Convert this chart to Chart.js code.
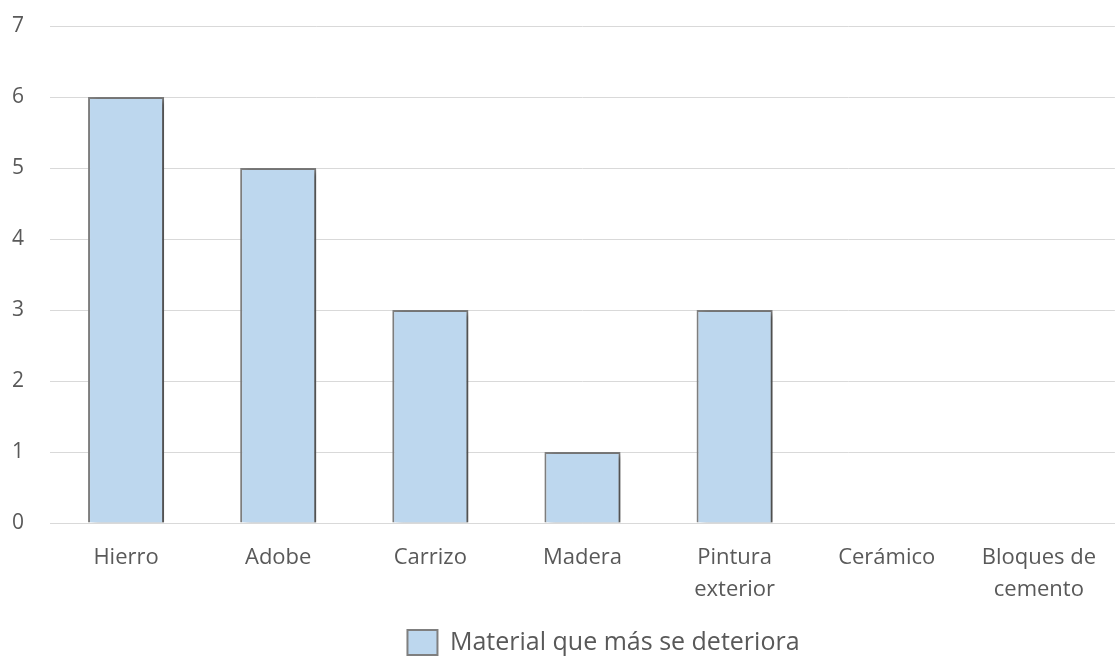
<!DOCTYPE html>
<html>
<head>
<meta charset="utf-8">
<script src="https://cdn.jsdelivr.net/npm/chart.js@4.4.0/dist/chart.umd.min.js"></script>
<style>
  html, body { margin: 0; padding: 0; background: #fff; }
  #wrap { width: 1115px; height: 659px; }
</style>
</head>
<body>
<div id="wrap"><canvas id="chart"></canvas></div>
<script>
const categories = ["Hierro", "Adobe", "Carrizo", "Madera", ["Pintura", "exterior"], "Cerámico", ["Bloques de", "cemento"]];
const values = [6, 5, 3, 1, 3, 0, 0];
const seriesName = "Material que más se deteriora";

// soft shadow behind the bars, like the office chart style
const barShadow = {
  id: "barShadow",
  beforeDatasetsDraw(chart) {
    const ctx = chart.ctx;
    ctx.save();
    ctx.shadowColor = "rgba(0,0,0,0.4)";
    ctx.shadowBlur = 6;
    ctx.shadowOffsetX = 5;
    ctx.shadowOffsetY = 2;
  },
  afterDatasetsDraw(chart) {
    chart.ctx.restore();
  }
};

// legend sits a bit right of and lower than the default spot
const legendNudge = {
  id: "legendNudge",
  afterLayout(chart) {
    const lg = chart.legend;
    lg.left += 40;
    lg.right += 40;
    lg.top += 6;
    lg.bottom += 6;
  }
};

const ctx = document.getElementById("chart").getContext("2d");
new Chart(ctx, {
  type: "bar",
  data: {
    labels: categories,
    datasets: [
      {
        label: seriesName,
        data: values,
        backgroundColor: "#BDD7EE",
        borderColor: "#7F7F7F",
        borderWidth: 2,
        barPercentage: 0.5,
        categoryPercentage: 1,
      },
    ],
  },
  options: {
    responsive: true,
    maintainAspectRatio: false,
    animation: false,
    layout: { padding: { top: 26, right: 0, left: 12, bottom: 0 } },
    scales: {
      x: {
        grid: { display: false, drawTicks: false },
        border: { color: "#D9D9D9", width: 1 },
        ticks: {
          color: "#595959",
          padding: 19,
          maxRotation: 0,
          autoSkip: false,
          font: { family: "Open Sans", size: 22, lineHeight: 1.45 },
        },
        afterFit(scale) {
          scale.height = 91;
        },
      },
      y: {
        min: 0,
        max: 7,
        grid: { color: "#D9D9D9", drawTicks: false },
        border: { display: false },
        ticks: {
          stepSize: 1,
          color: "#595959",
          padding: 4,
          crossAlign: "far",
          font: { family: "Open Sans", size: 21 },
        },
        afterFit(scale) {
          scale.width = 38;
        },
      },
    },
    plugins: {
      tooltip: { enabled: false },
      legend: {
        position: "bottom",
        labels: {
          color: "#595959",
          boxWidth: 30,
          boxHeight: 25,
          padding: 10,
          font: { family: "Open Sans", size: 25 },
        },
      },
    },
  },
  plugins: [barShadow, legendNudge],
});
</script>
</body>
</html>
